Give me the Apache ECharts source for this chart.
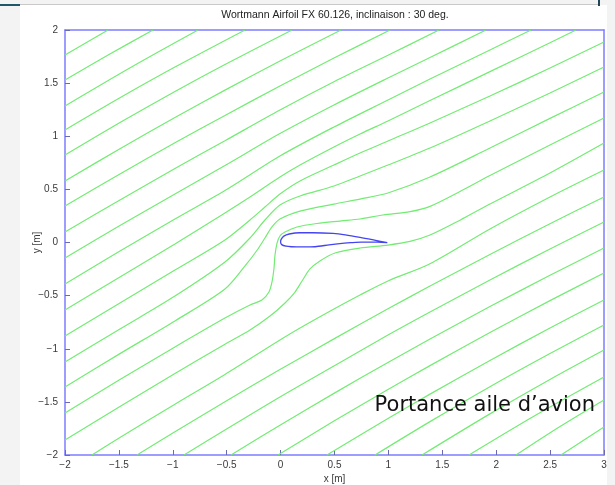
<!DOCTYPE html>
<html>
<head>
<meta charset="utf-8">
<script src="https://cdn.jsdelivr.net/npm/echarts/dist/echarts.min.js"></script>
<style>
  html, body { margin: 0; padding: 0; background: #f3f3f3; }
  #page { position: relative; width: 615px; height: 485px; overflow: hidden; }
  #panel { position: absolute; left: 20px; top: 5px; width: 587px; height: 480px; background: #ffffff; }
  #rule { position: absolute; left: 20px; top: 4px; width: 579px; height: 1px; background: #c9c9c9; }
  #accent { position: absolute; left: 0; top: 4px; width: 20px; height: 2px; background: #1e5866; }
  #post { position: absolute; left: 598px; top: 0; width: 2px; height: 6px; background: #1e4656; }
  #chart { position: absolute; left: 0; top: 0; width: 615px; height: 485px; }
</style>
</head>
<body>
<div id="page">
  <div id="panel"></div>
  <div id="rule"></div>
  <div id="accent"></div>
  <div id="post"></div>
  <div id="chart"></div>
</div>
<script>
// Axis ranges and tick spacing (metres)
const xRange = [-2, 3];
const yRange = [-2, 2];
const tickStep = 0.5;

// Wortmann FX 60-126 section, chord 0..1, traced as one closed outline
const airfoil = [
  [0.99, -0.002], [0.85, 0.027], [0.737, 0.049], [0.6, 0.072], [0.486, 0.085],
  [0.3, 0.092], [0.18, 0.092], [0.08, 0.08], [0.03, 0.06], [0.005, 0.03], [0.0, 0.005],
  [0.01, -0.02], [0.05, -0.035], [0.1, -0.04], [0.2, -0.042], [0.32, -0.04],
  [0.45, -0.022], [0.55, -0.01], [0.65, -0.002], [0.75, 0.004], [0.9, 0.003], [0.99, -0.002]
];

// Streamlines that enter through the left edge (x = -2)
const streamLeft = [
  [[-2, 1.765], [-1.601, 2]],
  [[-2, 1.529], [-1.592, 1.769], [-1.184, 2]],
  [[-2, 1.285], [-1.383, 1.652], [-0.766, 2]],
  [[-2, 1.059], [-1.49, 1.362], [-0.98, 1.651], [-0.33, 2]],
  [[-2, 0.824], [-1.49, 1.129], [-0.98, 1.422], [-0.516, 1.676], [0.106, 2]],
  [[-2, 0.579], [-1.49, 0.883], [-0.98, 1.177], [-0.516, 1.434], [-0.006, 1.708], [0.56, 2]],
  [[-2, 0.344], [-1.49, 0.645], [-0.98, 0.938], [-0.516, 1.196], [-0.006, 1.473], [0.495, 1.736], [1.015, 2]],
  [[-2, 0.099], [-1.49, 0.4], [-0.98, 0.697], [-0.516, 0.958], [-0.006, 1.247], [0.495, 1.513], [0.996, 1.762], [1.469, 2]],
  [[-2, -0.146], [-1.49, 0.16], [-0.98, 0.456], [-0.516, 0.724], [-0.006, 1.025], [0.495, 1.294], [0.996, 1.548], [1.386, 1.741], [1.905, 2]],
  [[-2, -0.391], [-1.49, -0.08], [-0.98, 0.221], [-0.516, 0.489], [-0.006, 0.814], [0.495, 1.087], [0.996, 1.341], [1.386, 1.539], [1.942, 1.812], [2.323, 2]],
  [[-2, -0.635], [-1.49, -0.325], [-0.98, -0.014], [-0.516, 0.278], [-0.284, 0.428], [-0.006, 0.616], [0.18, 0.729], [0.495, 0.899], [0.737, 1.021], [0.996, 1.144], [1.386, 1.336], [1.942, 1.608], [2.499, 1.88], [2.74, 2]],
  [[-2, -0.88], [-1.49, -0.569], [-0.98, -0.259], [-0.516, 0.024], [-0.284, 0.212], [-0.145, 0.334], [-0.006, 0.456], [0.18, 0.579], [0.495, 0.729], [0.737, 0.842], [0.996, 0.955], [1.386, 1.125], [1.942, 1.379], [2.499, 1.642], [3, 1.887]],
  [[-2, -1.125], [-1.49, -0.814], [-0.98, -0.504], [-0.516, -0.184], [-0.284, 0.042], [-0.145, 0.212], [-0.006, 0.353], [0.18, 0.438], [0.495, 0.532], [0.737, 0.626], [0.996, 0.729], [1.386, 0.889], [1.942, 1.144], [2.499, 1.407], [3, 1.652]],
  [[-2, -1.36], [-1.49, -1.046], [-0.98, -0.738], [-0.516, -0.438], [-0.33, -0.221], [-0.21, -0.061], [-0.145, 0.042], [-0.08, 0.146], [-0.006, 0.221], [0.18, 0.296], [0.495, 0.362], [0.737, 0.409], [0.996, 0.466], [1.386, 0.616], [1.942, 0.889], [2.499, 1.168], [3, 1.416]],
  [[-2, -1.605], [-1.49, -1.29], [-0.98, -0.983], [-0.516, -0.711], [-0.284, -0.588], [-0.173, -0.541], [-0.108, -0.466], [-0.08, -0.372], [-0.061, -0.24], [-0.052, -0.118], [-0.033, -0.005], [-0.006, 0.061], [0.041, 0.099], [0.152, 0.146], [0.338, 0.179], [0.551, 0.202], [0.737, 0.221], [0.95, 0.259], [1.2, 0.29], [1.386, 0.34], [1.664, 0.48], [1.942, 0.63], [2.499, 0.918], [3, 1.172]],
  [[-2, -1.859], [-1.49, -1.543], [-0.98, -1.233], [-0.516, -0.958], [-0.284, -0.824], [-0.098, -0.692], [0.041, -0.569], [0.134, -0.466], [0.199, -0.362], [0.273, -0.249], [0.365, -0.174], [0.505, -0.099], [0.737, -0.052], [0.996, -0.024], [1.2, 0.01], [1.386, 0.07], [1.664, 0.21], [1.942, 0.362], [2.499, 0.654], [3, 0.936]]
];

// Streamlines that enter through the bottom edge (y = -2)
const streamBottom = [
  [[-1.75, -2], [-1.49, -1.836], [-0.98, -1.522], [-0.516, -1.242], [-0.006, -0.918], [0.18, -0.805], [0.495, -0.626], [0.737, -0.494], [0.996, -0.362], [1.386, -0.2], [1.942, 0.127], [2.499, 0.428], [3, 0.682]],
  [[-1.332, -2], [-0.98, -1.782], [-0.516, -1.499], [-0.006, -1.196], [0.495, -0.907], [0.996, -0.624], [1.386, -0.41], [1.942, -0.113], [2.499, 0.177], [3, 0.428]],
  [[-0.896, -2], [-0.516, -1.765], [-0.006, -1.454], [0.495, -1.162], [0.996, -0.871], [1.386, -0.654], [1.942, -0.353], [2.499, -0.061], [3, 0.193]],
  [[-0.46, -2], [-0.006, -1.72], [0.495, -1.42], [0.996, -1.129], [1.386, -0.909], [1.942, -0.603], [2.499, -0.309], [3, -0.052]],
  [[-0.024, -2], [0.495, -1.681], [0.996, -1.384], [1.386, -1.159], [1.942, -0.847], [2.499, -0.547], [3, -0.287]],
  [[0.43, -2], [0.996, -1.656], [1.386, -1.427], [1.942, -1.11], [2.499, -0.805], [3, -0.541]],
  [[0.876, -2], [1.386, -1.686], [1.942, -1.357], [2.499, -1.045], [3, -0.776]],
  [[1.312, -2], [1.942, -1.613], [2.499, -1.289], [3, -1.012]],
  [[1.748, -2], [2.369, -1.624], [3, -1.266]],
  [[2.184, -2], [2.592, -1.732], [3, -1.482]],
  [[2.601, -2], [3, -1.736]]
];

const titleText = 'Wortmann Airfoil FX 60.126, inclinaison : 30 deg.';
const noteText = 'Portance aile d\u2019avion';
const xName = 'x [m]';
const yName = 'y [m]';

const frameColor = '#7d7dff';
const tickColor = '#6a6ab0';
const streamColor = '#72ec72';
const foilColor = '#4444f2';
const labelColor = '#3a3a3a';

// MATLAB-style tick text with a true minus sign
function fmt(v) {
  return String(v).replace('-', '\u2212');
}

const series = [];
streamLeft.concat(streamBottom).forEach(function (pts, i) {
  series.push({
    type: 'line',
    name: 'stream' + i,
    data: pts,
    smooth: 0.3,
    showSymbol: false,
    silent: true,
    clip: true,
    lineStyle: { color: streamColor, width: 1.2 },
    z: 2
  });
});
series.push({
  type: 'line',
  name: 'airfoil',
  data: airfoil,
  smooth: 0.25,
  showSymbol: false,
  silent: true,
  lineStyle: { color: foilColor, width: 1.3 },
  z: 3
});

const chart = echarts.init(document.getElementById('chart'), null, { renderer: 'canvas' });
chart.setOption({
  animation: false,
  backgroundColor: 'transparent',
  title: [
    {
      text: titleText,
      left: 335, top: 10, textAlign: 'center', padding: 0,
      textStyle: { fontFamily: 'Liberation Sans', fontSize: 10.5, fontWeight: 'normal', color: '#222' }
    },
    {
      text: noteText,
      right: 20, top: 395, padding: 0,
      textStyle: { fontFamily: 'DejaVu Sans', fontSize: 21, fontWeight: 'normal', color: '#111' }
    }
  ],
  grid: { left: 65, right: 11, top: 30, bottom: 30, containLabel: false, outerBoundsMode: 'none' },
  xAxis: [
    {
      type: 'value', min: xRange[0], max: xRange[1], interval: tickStep,
      name: xName, nameLocation: 'middle', nameGap: 19, nameMoveOverlap: false,
      nameTextStyle: { fontFamily: 'Liberation Sans', fontSize: 10, color: labelColor },
      axisLine: { show: true, onZero: false, lineStyle: { color: frameColor, width: 1.5 } },
      axisTick: { show: true, inside: true, length: 5, lineStyle: { color: tickColor, width: 1 } },
      axisLabel: { margin: 5, fontFamily: 'Liberation Sans', fontSize: 10, color: labelColor, formatter: fmt },
      splitLine: { show: false }
    },
    {
      type: 'value', position: 'top', min: xRange[0], max: xRange[1],
      axisLine: { show: true, onZero: false, lineStyle: { color: frameColor, width: 1.5 } },
      axisTick: { show: false }, axisLabel: { show: false }, splitLine: { show: false }
    }
  ],
  yAxis: [
    {
      type: 'value', min: yRange[0], max: yRange[1], interval: tickStep,
      name: yName, nameLocation: 'middle', nameGap: 23, nameRotate: 90, nameMoveOverlap: false,
      nameTextStyle: { fontFamily: 'Liberation Sans', fontSize: 10, color: labelColor },
      axisLine: { show: true, onZero: false, lineStyle: { color: frameColor, width: 1.5 } },
      axisTick: { show: true, inside: true, length: 5, lineStyle: { color: tickColor, width: 1 } },
      axisLabel: { margin: 7, fontFamily: 'Liberation Sans', fontSize: 10, color: labelColor, formatter: fmt },
      splitLine: { show: false }
    },
    {
      type: 'value', position: 'right', min: yRange[0], max: yRange[1],
      axisLine: { show: true, onZero: false, lineStyle: { color: frameColor, width: 1.5 } },
      axisTick: { show: false }, axisLabel: { show: false }, splitLine: { show: false }
    }
  ],
  series: series
});
</script>
</body>
</html>
